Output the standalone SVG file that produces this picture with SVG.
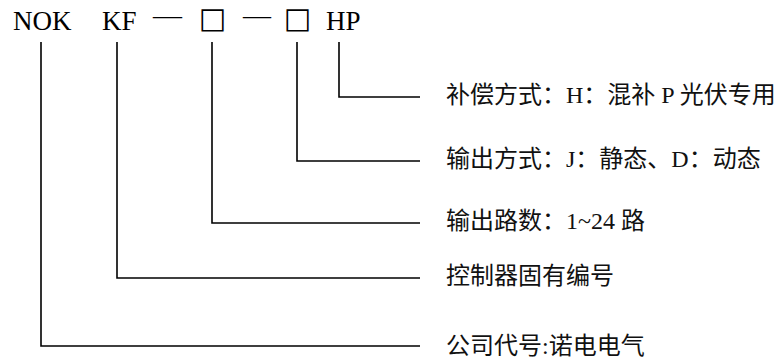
<svg xmlns="http://www.w3.org/2000/svg" width="783" height="358" viewBox="0 0 783 358">
<style>
.code{font-family:"Liberation Serif","Noto Sans CJK SC",serif;font-size:27px;fill:#000}
.dash{font-family:"Liberation Serif",serif;font-size:26px;fill:#000}
.box{font-family:"DejaVu Sans",sans-serif;font-size:29px;fill:#000}
.lbl{font-family:"Liberation Serif","Noto Sans CJK SC",serif;font-size:24px;fill:#111}
.conn{fill:none;stroke:#000;stroke-width:1.6}
</style>
<rect width="783" height="358" fill="#fff"/>
<g id="code">
<text class="code" x="13" y="30">NOK</text>
<text class="code" x="102" y="30">KF</text>
<text class="dash" x="153" y="24" textLength="29" lengthAdjust="spacingAndGlyphs">—</text>
<text class="box" x="199" y="28">□</text>
<text class="dash" x="243" y="24" textLength="28" lengthAdjust="spacingAndGlyphs">—</text>
<text class="box" x="284" y="28">□</text>
<text class="code" x="326" y="30">HP</text>
</g>
<g id="connectors">
<polyline class="conn" points="339,42 339,97 420,97"/>
<polyline class="conn" points="297,42 297,161 420,161"/>
<polyline class="conn" points="212,42 212,223 420,223"/>
<polyline class="conn" points="117,42 117,278 420,278"/>
<polyline class="conn" points="41,42 41,346 420,346"/>
</g>
<g id="node-hp"><text class="lbl" x="446" y="103">补偿方式：H：混补 P 光伏专用</text></g>
<g id="node-box2"><text class="lbl" x="446" y="167">输出方式：J：静态、D：动态</text></g>
<g id="node-box1"><text class="lbl" x="446" y="229">输出路数：1~24 路</text></g>
<g id="node-kf"><text class="lbl" x="446" y="284">控制器固有编号</text></g>
<g id="node-nok"><text class="lbl" x="446" y="354">公司代号:诺电电气</text></g>
</svg>
